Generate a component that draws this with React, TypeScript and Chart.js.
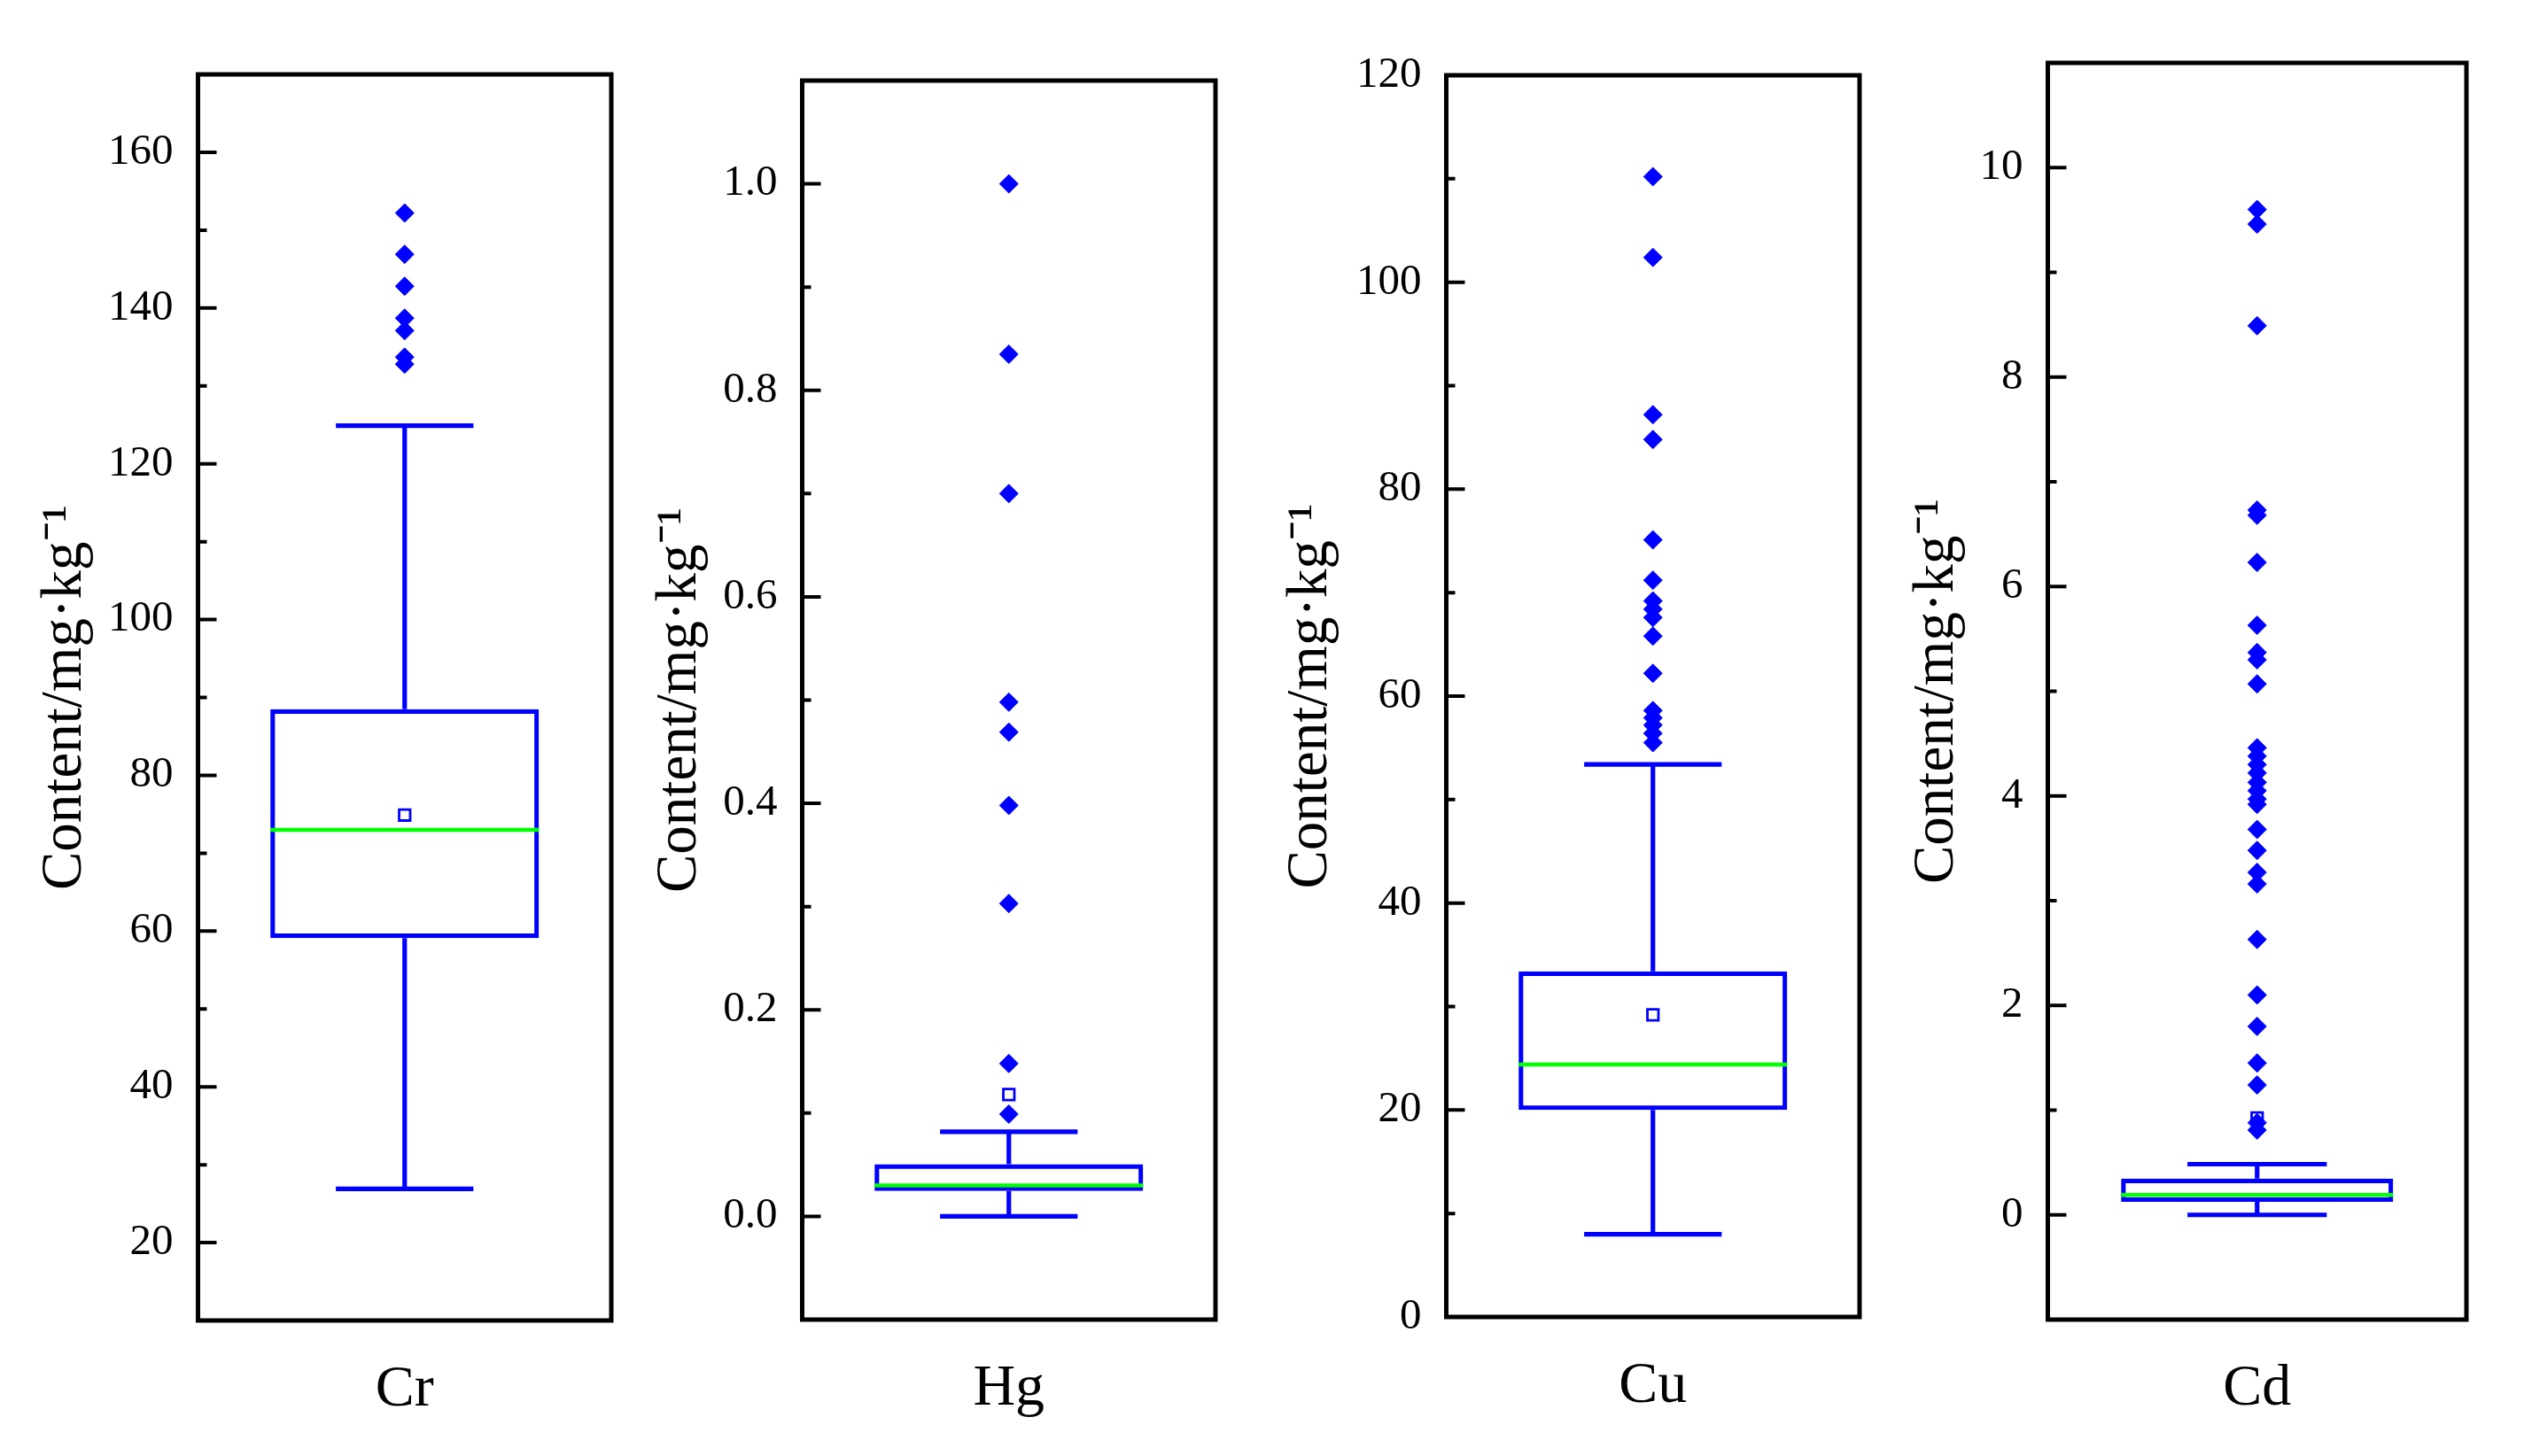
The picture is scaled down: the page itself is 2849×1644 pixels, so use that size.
import React, { useEffect, useRef } from 'react';
import { Chart, registerables } from 'chart.js';

Chart.register(...registerables);

// ---------------- data ----------------
const ELEMENTS = ['Cr', 'Hg', 'Cu', 'Cd'];
const Q1 = [59.1, 0.0245, 20.0, 0.124];
const Q3 = [88.5, 0.0505, 33.4, 0.347];
const MEDIAN = [73.0, 0.030, 24.4, 0.19];
const MEAN = [74.9, 0.118, 29.2, 0.925];
const WHISKER_LOW = [26.9, 0.0, 8.0, 0.0];
const WHISKER_HIGH = [124.9, 0.082, 53.4, 0.484];

const CR_OUTLIERS = [152.2, 146.9, 142.8, 138.7, 137.1, 133.7, 132.8];
const HG_OUTLIERS = [1.0, 0.835, 0.70, 0.498, 0.469, 0.398, 0.303, 0.148, 0.099];
const CU_OUTLIERS = [110.2, 102.4, 87.2, 84.8, 75.1, 71.2, 69.2, 68.4, 67.6, 65.8, 62.2, 58.6, 57.9, 57.2, 56.4, 55.5];
const CD_OUTLIERS = [9.60, 9.46, 8.49, 6.73, 6.68, 6.23, 5.63, 5.37, 5.30, 5.07, 4.46, 4.38, 4.30, 4.22, 4.13, 4.05, 3.97, 3.92, 3.68, 3.48, 3.27, 3.16, 2.63, 2.10, 1.80, 1.45, 1.24, 0.88, 0.81];
const OUTLIERS = [CR_OUTLIERS, HG_OUTLIERS, CU_OUTLIERS, CD_OUTLIERS];

const Y_MIN = [10, -0.1, 0, -1];
const Y_MAX = [170, 1.1, 120, 11];

const CR_TICKS = [20, 40, 60, 80, 100, 120, 140, 160];
const HG_TICKS = [0, 0.2, 0.4, 0.6, 0.8, 1.0];
const CU_TICKS = [0, 20, 40, 60, 80, 100, 120];
const CD_TICKS = [0, 2, 4, 6, 8, 10];
const TICKS = [CR_TICKS, HG_TICKS, CU_TICKS, CD_TICKS];

const CR_TICK_LABELS = ['20', '40', '60', '80', '100', '120', '140', '160'];
const HG_TICK_LABELS = ['0.0', '0.2', '0.4', '0.6', '0.8', '1.0'];
const CU_TICK_LABELS = ['0', '20', '40', '60', '80', '100', '120'];
const CD_TICK_LABELS = ['0', '2', '4', '6', '8', '10'];
const TICK_LABELS = [CR_TICK_LABELS, HG_TICK_LABELS, CU_TICK_LABELS, CD_TICK_LABELS];

const Y_TITLE = 'Content/mg·kg⁻¹';

// ---------------- layout / style ----------------
const PAGE_W = 2849;
const PAGE_H = 1644;
const FRAMES = [
  { left: 223, right: 690, top: 84, bottom: 1491, titleX: 73 },
  { left: 905, right: 1372, top: 91, bottom: 1490, titleX: 767 },
  { left: 1632, right: 2099, top: 85, bottom: 1487, titleX: 1479 },
  { left: 2311, right: 2784, top: 71, bottom: 1490, titleX: 2186 },
];
const FONT = '"Liberation Serif", "Times New Roman", serif';
const BLUE = '#0000ff';
const GREEN = '#00ff00';
const LINE_W = 5.2;
const X_AXIS_H = 140;
const TITLE_SIZE = 65;
const TITLE_PAD = 8;

const boxExtrasPlugin = {
  id: 'boxExtras',
  afterDatasetsDraw(chart: any, _args: any, opts: any) {
    const i = opts.index;
    const { ctx } = chart;
    const meta = chart.getDatasetMeta(2);
    const bar = meta.data[0];
    if (!bar) return;
    const { x, width } = bar.getProps(['x', 'width'], true);
    const y = chart.scales.y;
    const capHalf = width * 0.256;
    const pq1 = y.getPixelForValue(Q1[i]);
    const pq3 = y.getPixelForValue(Q3[i]);
    const pLo = y.getPixelForValue(WHISKER_LOW[i]);
    const pHi = y.getPixelForValue(WHISKER_HIGH[i]);
    const pMed = y.getPixelForValue(MEDIAN[i]);
    ctx.save();
    ctx.lineCap = 'butt';
    ctx.lineWidth = LINE_W;
    ctx.strokeStyle = BLUE;
    ctx.beginPath();
    ctx.moveTo(x, pq3);
    ctx.lineTo(x, pHi);
    ctx.moveTo(x, pq1);
    ctx.lineTo(x, pLo);
    ctx.moveTo(x - capHalf, pHi);
    ctx.lineTo(x + capHalf, pHi);
    ctx.moveTo(x - capHalf, pLo);
    ctx.lineTo(x + capHalf, pLo);
    ctx.stroke();
    ctx.strokeStyle = GREEN;
    ctx.lineWidth = 4.5;
    ctx.beginPath();
    ctx.moveTo(x - width / 2, pMed);
    ctx.lineTo(x + width / 2, pMed);
    ctx.stroke();
    ctx.restore();
  },
};

const framePlugin = {
  id: 'frameTicks',
  afterDraw(chart: any) {
    const { ctx, chartArea } = chart;
    const y = chart.scales.y;
    const majors = y.ticks.map((t: any) => t.value);
    const minors: number[] = [];
    for (let k = 0; k < majors.length - 1; k++) minors.push((majors[k] + majors[k + 1]) / 2);
    const step = majors.length > 1 ? majors[1] - majors[0] : 0;
    if (step) {
      const below = majors[0] - step / 2;
      const above = majors[majors.length - 1] + step / 2;
      if (below > y.min) minors.push(below);
      if (above < y.max) minors.push(above);
    }
    ctx.save();
    ctx.strokeStyle = '#000';
    ctx.lineWidth = 4;
    ctx.beginPath();
    majors.forEach((v: number) => {
      const p = y.getPixelForValue(v);
      if (p <= chartArea.top + 3 || p >= chartArea.bottom - 3) return;
      ctx.moveTo(chartArea.left, p);
      ctx.lineTo(chartArea.left + 21, p);
    });
    minors.forEach((v: number) => {
      const p = y.getPixelForValue(v);
      ctx.moveTo(chartArea.left, p);
      ctx.lineTo(chartArea.left + 10, p);
    });
    ctx.stroke();
    ctx.lineWidth = 5;
    ctx.strokeRect(chartArea.left, chartArea.top, chartArea.right - chartArea.left, chartArea.bottom - chartArea.top);
    ctx.restore();
  },
};

function Panel({ index }: { index: number }) {
  const ref = useRef<HTMLCanvasElement>(null);
  const f = FRAMES[index];
  const canvasLeft = f.titleX - (TITLE_PAD + TITLE_SIZE / 2);
  const yAxisW = f.left - canvasLeft;
  const padRight = 12;
  const canvasW = f.right - canvasLeft + padRight;
  const padBottom = PAGE_H - f.bottom - X_AXIS_H;

  useEffect(() => {
    const name = ELEMENTS[index];
    const chart = new Chart(ref.current as HTMLCanvasElement, {
      type: 'bar',
      data: {
        labels: [name],
        datasets: [
          {
            type: 'line',
            data: OUTLIERS[index].map((v) => ({ x: name, y: v })),
            showLine: false,
            pointStyle: 'rectRot',
            pointRadius: 10.5,
            pointBackgroundColor: BLUE,
            pointBorderColor: BLUE,
            pointBorderWidth: 1,
            order: 1,
          } as any,
          {
            type: 'line',
            data: [{ x: name, y: MEAN[index] }],
            showLine: false,
            pointStyle: 'rect',
            pointRadius: 8.8,
            pointBackgroundColor: '#ffffff',
            pointBorderColor: BLUE,
            pointBorderWidth: 2.8,
            order: 2,
          } as any,
          {
            type: 'bar',
            data: [[Q1[index], Q3[index]]],
            backgroundColor: 'rgba(0,0,0,0)',
            borderColor: BLUE,
            borderWidth: LINE_W,
            borderSkipped: false,
            categoryPercentage: 1,
            barPercentage: 0.65,
            order: 3,
          } as any,
        ],
      },
      options: {
        responsive: false,
        animation: false,
        events: [],
        layout: { padding: { left: 0, right: padRight, top: f.top, bottom: padBottom } },
        plugins: {
          legend: { display: false },
          tooltip: { enabled: false },
          boxExtras: { index },
        } as any,
        scales: {
          x: {
            type: 'category',
            offset: true,
            grid: { display: false, drawTicks: false },
            border: { display: false },
            ticks: { font: { family: FONT, size: 66, lineHeight: 1 }, color: '#000', padding: 46 },
            afterFit: (s: any) => {
              s.height = X_AXIS_H;
            },
          },
          y: {
            type: 'linear',
            min: Y_MIN[index],
            max: Y_MAX[index],
            grid: { display: false, drawTicks: false },
            border: { display: false },
            afterBuildTicks: (s: any) => {
              s.ticks = TICKS[index].map((v) => ({ value: v }));
            },
            ticks: {
              autoSkip: false,
              font: { family: FONT, size: 49 },
              color: '#000',
              padding: 28,
              callback: (_v: any, idx: number) => TICK_LABELS[index][idx],
            },
            title: {
              display: true,
              text: Y_TITLE,
              color: '#000',
              font: { family: FONT, size: TITLE_SIZE, lineHeight: 1 },
              padding: { top: TITLE_PAD, bottom: 0 },
            },
            afterFit: (s: any) => {
              s.width = yAxisW;
            },
          },
        },
      } as any,
      plugins: [boxExtrasPlugin, framePlugin],
    });
    return () => chart.destroy();
  }, [index]);

  return (
    <canvas
      ref={ref}
      width={canvasW}
      height={PAGE_H}
      style={{ position: 'absolute', left: canvasLeft, top: 0, width: canvasW, height: PAGE_H }}
    />
  );
}

export default function App() {
  return (
    <div style={{ position: 'absolute', left: 0, top: 0, width: PAGE_W, height: PAGE_H, background: '#ffffff' }}>
      {ELEMENTS.map((_, i) => (
        <Panel key={i} index={i} />
      ))}
    </div>
  );
}
